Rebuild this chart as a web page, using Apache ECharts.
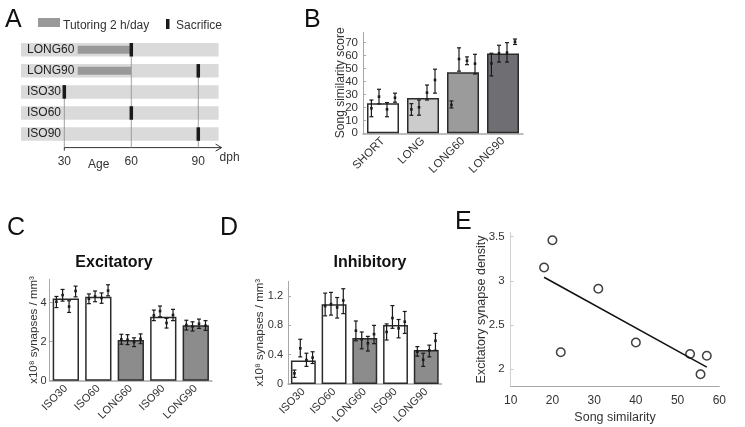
<!DOCTYPE html>
<html>
<head>
<meta charset="utf-8">
<script src="https://cdn.jsdelivr.net/npm/echarts@6/dist/echarts.min.js"></script>
<style>
html, body { margin: 0; padding: 0; background: #fff; }
#chart { width: 745px; height: 427px; }
</style>
</head>
<body>
<div id="chart"></div>
<script>
// --- A: rearing schedule ---
const groupsA = ['LONG60', 'LONG90', 'ISO30', 'ISO60', 'ISO90']
const tutoringGroups = ['LONG60', 'LONG90']
const tutoringStart = [36, 36]
const tutoringEnd = [60, 60]
const sacrificeAge = [60, 90, 30, 60, 90]
const ageTicks = [30, 60, 90]

// --- B: song similarity ---
const songGroups = ['SHORT', 'LONG', 'LONG60', 'LONG90']
const songMean = [23.3, 27.3, 47.2, 61.6]
const songBird = [[19.3, 28.3, 18.5, 27.5], [18.5, 20.1, 31.4, 41.2], [21.9, 57.4, 56, 53.8], [54, 61.8, 62.3, 70.7]]
const songLow = [[12.8, 22.7, 12.8, 24], [13.9, 14, 25.7, 31], [19.6, 48, 53, 45.8], [44.3, 55, 55, 68.6]]
const songHigh = [[25.7, 34, 23.7, 31], [22.9, 25.7, 37.3, 49.5], [25, 66, 59, 61], [61.8, 68, 70, 72.8]]

// --- C / D: synapse density ---
const synGroups = ['ISO30', 'ISO60', 'LONG60', 'ISO90', 'LONG90']
const excMean = [4.22, 4.31, 2.09, 3.28, 2.84]
const excBird = [[4.05, 4.39, 3.8, 4.6], [4.2, 4.32, 4.24, 4.62], [2.12, 2.1, 1.98, 2.15], [3.35, 3.57, 2.96, 3.37], [2.85, 2.78, 2.92, 2.82]]
const excLow = [[3.75, 4.08, 3.5, 4.3], [3.95, 4.05, 3.97, 4.35], [1.87, 1.85, 1.75, 1.9], [3.08, 3.28, 2.7, 3.08], [2.6, 2.55, 2.68, 2.58]]
const excHigh = [[4.32, 4.68, 4.1, 4.85], [4.45, 4.6, 4.5, 4.92], [2.38, 2.36, 2.2, 2.4], [3.62, 3.83, 3.2, 3.66], [3.1, 3.02, 3.16, 3.08]]
const inhMean = [0.32, 1.087, 0.627, 0.805, 0.464]
const inhBird = [[0.146, 0.487, 0.327, 0.36], [1.064, 1.09, 1.045, 1.14], [0.727, 0.61, 0.555, 0.68], [0.71, 0.9, 0.76, 0.85], [0.44, 0.33, 0.46, 0.59]]
const inhLow = [[0.09, 0.37, 0.24, 0.28], [0.93, 0.94, 0.9, 0.96], [0.59, 0.48, 0.45, 0.55], [0.6, 0.76, 0.63, 0.69], [0.38, 0.24, 0.37, 0.46]]
const inhHigh = [[0.19, 0.61, 0.42, 0.44], [1.24, 1.25, 1.18, 1.3], [0.86, 0.71, 0.65, 0.8], [0.82, 1.07, 0.88, 0.99], [0.51, 0.42, 0.53, 0.69]]

// --- E: correlation ---
const songSimilarity = [18, 20, 22, 31, 40, 53, 55.5, 57]
const excDensity = [3.15, 3.46, 2.19, 2.91, 2.3, 2.17, 1.94, 2.15]
const fitX = [18, 57]
const fitY = [3.04, 2.02]

const FONT = 'Liberation Sans, Arial, sans-serif'
const TXT = '#333'
const JITTER = [-0.29, -0.1, 0.1, 0.3]
const songColors = ['#ffffff', '#cccccc', '#9b9b9b', '#6f6f73']

function birdRows(mean, low, high) {
  const rows = []
  mean.forEach((g, i) => g.forEach((v, k) => rows.push([i, k, v, low[i][k], high[i][k]])))
  return rows
}

// one bird: dot + error bar, jittered inside its bar
function renderBird(params, api) {
  const cat = api.value(0)
  const band = api.size([1, 0])[0]
  const c = api.coord([cat, api.value(2)])
  const x = c[0] + JITTER[api.value(1)] * band
  const yLo = api.coord([cat, api.value(3)])[1]
  const yHi = api.coord([cat, api.value(4)])[1]
  const st = { stroke: '#1a1a1a', lineWidth: 1.2 }
  return {
    type: 'group',
    children: [
      { type: 'line', shape: { x1: x, y1: yLo, x2: x, y2: yHi }, style: st },
      { type: 'line', shape: { x1: x - 2, y1: yLo, x2: x + 2, y2: yLo }, style: st },
      { type: 'line', shape: { x1: x - 2, y1: yHi, x2: x + 2, y2: yHi }, style: st },
      { type: 'rect', shape: { x: x - 1.3, y: c[1] - 1.3, width: 2.6, height: 2.6 }, style: { fill: '#1a1a1a' } }
    ]
  }
}

function rowBox(api, i, frac) {
  const h = api.size([0, 1])[1] * frac
  return [api.coord([ageTicks[0], i])[1] - h / 2, h]
}

const valueAxisBase = (idx, opts) => Object.assign({
  type: 'value', gridIndex: idx, splitLine: { show: false },
  axisLine: { show: true, lineStyle: { color: '#a8a8a8', width: 1 } },
  axisTick: { show: true, inside: true, length: 3, lineStyle: { color: '#a8a8a8' } },
  axisLabel: { color: TXT, fontSize: 11, showMaxLabel: false },
  nameLocation: 'middle', nameMoveOverlap: false, nameTextStyle: { color: TXT, fontSize: 12 }
}, opts)

const catAxisBase = (idx, data, fontSize) => ({
  type: 'category', gridIndex: idx, data,
  axisLine: { lineStyle: { color: '#a8a8a8', width: 1.5 } },
  axisTick: { show: false },
  axisLabel: { color: TXT, fontSize, rotate: 45, margin: 6, interval: 0 }
})

const barData = (vals, colorOf) => vals.map((v, i) => ({ value: v, itemStyle: { color: colorOf(i) } }))
const synColor = i => synGroups[i].startsWith('LONG') ? '#8c8c8c' : '#ffffff'
const barStyle = { borderColor: '#2b2b2b', borderWidth: 1.5 }
const letter = { fontSize: 25, fontWeight: 'normal', color: '#111' }

const option = {
  animation: false,
  textStyle: { fontFamily: FONT },
  title: [
    { text: 'A', left: 0, top: 3, textStyle: letter },
    { text: 'B', left: 299, top: 3, textStyle: letter },
    { text: 'C', left: 2, top: 211, textStyle: letter },
    { text: 'D', left: 215, top: 211, textStyle: letter },
    { text: 'E', left: 450, top: 205, textStyle: letter },
    { text: 'Excitatory', left: 109, top: 250, textAlign: 'center', textStyle: { fontSize: 16, fontWeight: 'bold', color: '#111' } },
    { text: 'Inhibitory', left: 365, top: 250, textAlign: 'center', textStyle: { fontSize: 16, fontWeight: 'bold', color: '#111' } }
  ],
  graphic: [
    { type: 'rect', left: 38, top: 18, shape: { width: 22, height: 9 }, style: { fill: '#999' } },
    { type: 'text', left: 63, top: 19.5, style: { text: 'Tutoring 2 h/day', fill: TXT, font: '12px ' + FONT } },
    { type: 'rect', left: 166, top: 19, shape: { width: 3.5, height: 10 }, style: { fill: '#1a1a1a' } },
    { type: 'text', left: 176, top: 19.5, style: { text: 'Sacrifice', fill: TXT, font: '12px ' + FONT } },
    { type: 'text', left: 88, top: 159, style: { text: 'Age', fill: TXT, font: '12px ' + FONT } }
  ],
  grid: [
    { left: 21, top: 39.2, width: 197.6, height: 105.4 },
    { left: 363, top: 32.3, width: 160, height: 101 },
    { left: 49.6, top: 279.3, width: 162.4, height: 101.4 },
    { left: 288, top: 281.4, width: 153.6, height: 102.6 },
    { left: 510.7, top: 232.3, width: 208.6, height: 154.3 }
  ],
  xAxis: [
    {
      type: 'value', gridIndex: 0, min: 10.6, max: 99.1,
      axisLine: { show: false }, axisTick: { show: false }, splitLine: { show: false },
      axisLabel: { customValues: ageTicks, color: TXT, fontSize: 12, margin: 11 },
      name: 'dph', nameLocation: 'end', nameGap: 1,
      nameTextStyle: { color: TXT, fontSize: 12, verticalAlign: 'top', padding: [7, 0, 0, 0] }
    },
    catAxisBase(1, songGroups, 11.5),
    catAxisBase(2, synGroups, 11),
    catAxisBase(3, synGroups, 11),
    valueAxisBase(4, {
      min: 10, max: 60, interval: 10, axisTick: { show: false },
      axisLabel: { color: TXT, fontSize: 12, margin: 8 },
      name: 'Song similarity', nameGap: 24, nameTextStyle: { color: TXT, fontSize: 12.5 }
    })
  ],
  yAxis: [
    {
      type: 'category', gridIndex: 0, data: groupsA, inverse: true, z: 10,
      axisLine: { show: false }, axisTick: { show: false },
      axisLabel: { inside: true, margin: 6, color: '#222', fontSize: 12 }
    },
    valueAxisBase(1, { min: 0, max: 78, interval: 10, axisLabel: { color: TXT, fontSize: 11.5, showMaxLabel: false, margin: 5 }, name: 'Song similarity score', nameGap: 16.5 }),
    valueAxisBase(2, {
      min: 0, max: 5.2, interval: 2, axisLabel: { color: TXT, fontSize: 11, showMaxLabel: false, margin: 3 },
      name: 'x10⁸ synapses / mm³', nameGap: 10, nameTextStyle: { color: TXT, fontSize: 11.5 }
    }),
    valueAxisBase(3, {
      min: 0, max: 1.4, interval: 0.4, axisLabel: { color: TXT, fontSize: 11, showMaxLabel: false, margin: 5 },
      name: 'x10⁸ synapses / mm³', nameGap: 22, nameTextStyle: { color: TXT, fontSize: 11.5 }
    }),
    valueAxisBase(4, {
      min: 1.8, max: 3.55, axisLine: { show: true, lineStyle: { color: '#d0d0d0' } },
      axisTick: { show: true, inside: true, length: 3, customValues: [2, 2.5, 3, 3.5], lineStyle: { color: '#c8c8c8' } },
      axisLabel: { customValues: [2, 2.5, 3, 3.5], color: TXT, fontSize: 11.5, margin: 6 },
      name: 'Excitatory synapse density', nameGap: 22.7, nameTextStyle: { color: TXT, fontSize: 12.5 }
    })
  ],
  series: [
    // A: row backgrounds
    {
      type: 'custom', xAxisIndex: 0, yAxisIndex: 0, z: 1,
      data: groupsA.map((g, i) => [sacrificeAge[i], i]),
      renderItem: (params, api) => {
        const cs = params.coordSys
        const [y, h] = rowBox(api, api.value(1), 0.64)
        return { type: 'rect', shape: { x: cs.x, y, width: cs.width, height: h }, style: { fill: '#dadada' } }
      }
    },
    // A: age guide lines + axis arrow
    {
      type: 'custom', xAxisIndex: 0, yAxisIndex: 0, z: 2,
      data: ageTicks.map(a => [a, sacrificeAge.indexOf(a)]),
      renderItem: (params, api) => {
        const cs = params.coordSys
        const x = api.coord([api.value(0), 0])[0]
        const yTop = rowBox(api, api.value(1), 0.64)[0]
        const yAxis = cs.y + cs.height + 3
        const kids = [{ type: 'line', shape: { x1: x, y1: yTop, x2: x, y2: yAxis }, style: { stroke: '#8a8a8a', lineWidth: 0.8 } }]
        if (params.dataIndex === 0) {
          const xEnd = cs.x + cs.width + 3
          const st = { stroke: '#333', lineWidth: 1, fill: null }
          kids.push({ type: 'line', shape: { x1: x, y1: yAxis, x2: xEnd, y2: yAxis }, style: st })
          kids.push({ type: 'polyline', shape: { points: [[xEnd - 6, yAxis - 3.5], [xEnd, yAxis], [xEnd - 6, yAxis + 3.5]] }, style: st })
          kids.push({ type: 'line', shape: { x1: x, y1: yAxis, x2: x, y2: yAxis + 3 }, style: st })
        }
        return { type: 'group', children: kids }
      }
    },
    // A: tutoring periods
    {
      type: 'custom', name: 'Tutoring 2 h/day', xAxisIndex: 0, yAxisIndex: 0, z: 3,
      data: tutoringGroups.map((g, i) => [tutoringStart[i], groupsA.indexOf(g), tutoringEnd[i]]),
      renderItem: (params, api) => {
        const x0 = api.coord([api.value(0), 0])[0]
        const x1 = api.coord([api.value(2), 0])[0]
        const [y, h] = rowBox(api, api.value(1), 0.38)
        return { type: 'rect', shape: { x: x0, y, width: x1 - x0, height: h }, style: { fill: '#999999' } }
      }
    },
    // A: sacrifice markers
    {
      type: 'custom', name: 'Sacrifice', xAxisIndex: 0, yAxisIndex: 0, z: 4,
      data: sacrificeAge.map((a, i) => [a, i]),
      renderItem: (params, api) => {
        const x = api.coord([api.value(0), 0])[0]
        const [y, h] = rowBox(api, api.value(1), 0.64)
        return { type: 'rect', shape: { x: x - 1.75, y, width: 3.5, height: h }, style: { fill: '#1a1a1a' } }
      }
    },
    // B
    {
      type: 'bar', xAxisIndex: 1, yAxisIndex: 1, barWidth: '80%', itemStyle: barStyle,
      data: barData(songMean, i => songColors[i])
    },
    {
      type: 'custom', xAxisIndex: 1, yAxisIndex: 1, z: 5, renderItem: renderBird,
      encode: { x: 0, y: [2, 3, 4] }, data: birdRows(songBird, songLow, songHigh)
    },
    // C
    {
      type: 'bar', xAxisIndex: 2, yAxisIndex: 2, barWidth: '81%', itemStyle: barStyle,
      data: barData(excMean, synColor)
    },
    {
      type: 'custom', xAxisIndex: 2, yAxisIndex: 2, z: 5, renderItem: renderBird,
      encode: { x: 0, y: [2, 3, 4] }, data: birdRows(excBird, excLow, excHigh)
    },
    // D
    {
      type: 'bar', xAxisIndex: 3, yAxisIndex: 3, barWidth: '81%', itemStyle: barStyle,
      data: barData(inhMean, synColor)
    },
    {
      type: 'custom', xAxisIndex: 3, yAxisIndex: 3, z: 5, renderItem: renderBird,
      encode: { x: 0, y: [2, 3, 4] }, data: birdRows(inhBird, inhLow, inhHigh)
    },
    // E
    {
      type: 'line', xAxisIndex: 4, yAxisIndex: 4, symbol: 'none',
      lineStyle: { color: '#111', width: 1.5 },
      data: fitX.map((x, i) => [x, fitY[i]])
    },
    {
      type: 'scatter', xAxisIndex: 4, yAxisIndex: 4, symbol: 'circle', symbolSize: 8.5,
      itemStyle: { color: '#fff', borderColor: '#111', borderWidth: 1.5 },
      data: songSimilarity.map((x, i) => [x, excDensity[i]])
    }
  ]
}

const chart = echarts.init(document.getElementById('chart'))
chart.setOption(option)
</script>
</body>
</html>
